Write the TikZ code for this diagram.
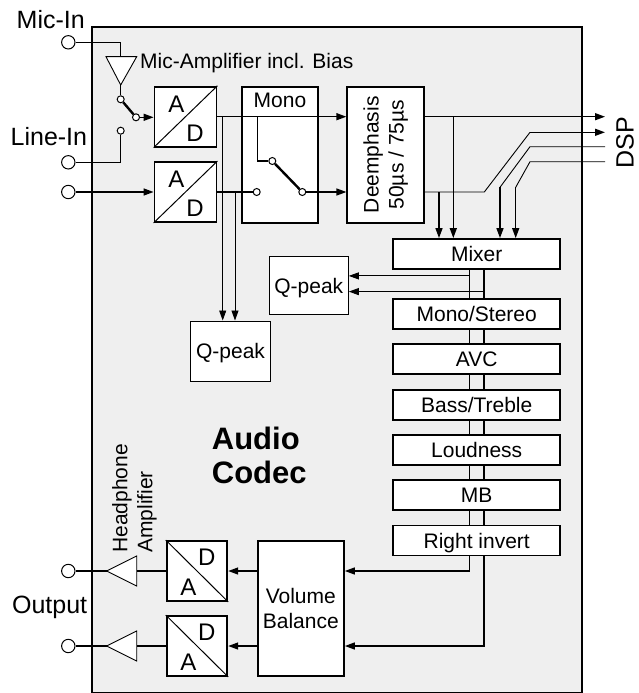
\documentclass[tikz,border=0pt]{standalone}
\usepackage{fontspec}
\setmainfont{Liberation Sans}
\usetikzlibrary{arrows.meta,calc}
\definecolor{codecbg}{HTML}{EFEFEF}
\begin{document}
\begin{tikzpicture}[x=1pt,y=-1pt,
  font=\fontsize{21}{25}\selectfont,
  box/.style={draw, line width=1.8pt, fill=white, inner sep=0pt},
  capbox/.style={box, text height=15pt, text depth=0pt},
  thinbox/.style={draw, line width=1pt, fill=white, inner sep=0pt, text height=15pt, text depth=0pt},
  sig/.style={line width=1.4pt},
  thinsig/.style={line width=0.9pt},
  arr/.style={-{Triangle[length=10pt,width=7pt]}},
  port/.style={circle, draw, line width=1pt, fill=white, minimum size=13.4pt, inner sep=0pt},
  dot/.style={circle, draw, line width=1pt, fill=white, minimum size=7pt, inner sep=0pt},
  lbl/.style={font=\fontsize{25}{28}\selectfont, inner sep=0pt},
  adl/.style={font=\fontsize{24}{24}\selectfont, inner sep=0pt},
  blade/.style={line width=2.4pt},
]
\useasboundingbox (0,0) rectangle (639,693);
% main codec box
\node[draw, line width=2pt, fill=codecbg, minimum width=490pt, minimum height=666pt, inner sep=0pt, anchor=north west] (codec) at (91,26) {};

% ports and labels
\node[port] (micin) at (68.3,42.3) {};
\node[port] (linein) at (68.3,162.3) {};
\node[port] (linein2) at (68.3,192) {};
\node[port] (out1) at (68.3,571) {};
\node[port] (out2) at (68.3,646) {};
\node[lbl, anchor=base east] (lmic) at (85,29) {Mic-In};
\node[lbl, anchor=base east] (lline) at (87.3,145) {Line-In};
\node[lbl, anchor=base east] (lout) at (87.3,613.3) {Output};

% mic amplifier
\coordinate (mampin) at (120.7,56.7);
\coordinate (mampout) at (120.7,85);
\draw[thinsig, fill=white] (106,56.7) -- (136.7,56.7) -- (mampout) -- cycle;
\draw[sig] (micin) -| (mampin);
\node[anchor=base west, inner sep=0pt] (lamp) at (140,68.3) {Mic-Amplifier incl. Bias};

% input switch
\node[dot] (sw1p) at (120.7,99.3) {};
\node[dot] (sw1a) at (136,117.3) {};
\node[dot] (sw1b) at (120.7,130.7) {};
\draw[sig] (mampout) -- (sw1p);
\draw[blade] (sw1p) -- (sw1a);
\draw[sig] (sw1b) |- (linein);

% A/D converters
\node[box, minimum width=62pt, minimum height=60pt] (ad1) at (185.5,116.7) {};
\draw[line width=1pt] (ad1.south west) -- (ad1.north east);
\node[adl] (ad1a) at ($(ad1)+(-9,-12.7)$) {A};
\node[adl] (ad1d) at ($(ad1)+(9.5,16.6)$) {D};
\node[box, minimum width=62pt, minimum height=60pt] (ad2) at (185.5,192) {};
\draw[line width=1pt] (ad2.south west) -- (ad2.north east);
\node[adl] (ad2a) at ($(ad2)+(-9,-12.7)$) {A};
\node[adl] (ad2d) at ($(ad2)+(9.5,16.6)$) {D};
\draw[sig,arr] (sw1a) -- (sw1a -| ad1.west);
\draw[sig,arr] (linein2) -- (ad2.west);

% Mono and Deemphasis
\node[box, minimum width=76pt, minimum height=136pt] (mono) at (279.7,154.7) {};
\node[inner sep=0pt] (lmono) at (280,100.7) {Mono};
\node[box, minimum width=77pt, minimum height=136pt] (deem) at (385.8,154.7) {};
\node[rotate=90, align=center, inner sep=0pt] (ldeem) at (deem.center) {Deemphasis\\50µs / 75µs};

\draw[sig,arr] (ad1.east) -- (ad1.east -| deem.west);
\coordinate (mtap) at (257.7,116.7);
\node[dot] (msw1) at (272.3,161) {};
\node[dot] (msw2) at (302.3,192) {};
\node[dot] (msw3) at (256.7,192) {};
\draw[sig] (mtap) |- (msw1);
\draw[blade] (msw1) -- (msw2);
\draw[sig] (ad2.east) -- (msw3);
\draw[sig,arr] (msw2) -- (msw2 -| deem.west);

% Q-peak (lower)
\node[thinbox, minimum width=79.6pt, minimum height=60pt] (qp1) at (230.5,351) {Q-peak};
\coordinate (t1) at (222.7,116.7);
\coordinate (t2) at (235,192);
\draw[thinsig,arr] (t1) -- (t1 |- qp1.north);
\draw[thinsig,arr] (t2) -- (t2 |- qp1.north);

% processing chain
\node[capbox, minimum width=166.7pt, minimum height=30pt] (mixer) at (476.7,254) {Mixer};
\node[capbox, minimum width=166.7pt, minimum height=30pt] (mst) at (476.7,314) {Mono/Stereo};
\node[capbox, minimum width=166.7pt, minimum height=30pt] (avc) at (476.7,359.3) {AVC};
\node[capbox, minimum width=166.7pt, minimum height=30pt] (bt) at (476.7,404.6) {Bass/Treble};
\node[capbox, minimum width=166.7pt, minimum height=30pt] (loud) at (476.7,449.9) {Loudness};
\node[capbox, minimum width=166.7pt, minimum height=30pt] (mb) at (476.7,495.2) {MB};
\node[capbox, minimum width=166.7pt, minimum height=30pt] (rinv) at (476.7,540.5) {Right invert};
\foreach \a/\b in {mixer/mst, mst/avc, avc/bt, bt/loud, loud/mb, mb/rinv} {
  \draw[sig] ($(\a.south)+(-7.4,0)$) -- ($(\b.north)+(-7.4,0)$);
  \draw[sig] ($(\a.south)+(7.3,0)$) -- ($(\b.north)+(7.3,0)$);
}

% Q-peak (upper)
\node[thinbox, minimum width=79pt, minimum height=58.3pt] (qp2) at (308.8,285.8) {Q-peak};
\coordinate (q2a) at ($(mixer.south)+(-7.4,6)$);
\coordinate (q2b) at ($(mixer.south)+(7.3,21.7)$);
\draw[thinsig,arr] (q2a) -- (q2a -| qp2.east);
\draw[thinsig,arr] (q2b) -- (q2b -| qp2.east);

% DSP connections
\coordinate (dspA) at (605,116.7);
\coordinate (dspB) at (605,132.3);
\coordinate (dspC) at (605,146.7);
\coordinate (dspD) at (605,161.7);
\node[rotate=90, lbl] (ldsp) at (625,142.5) {DSP};
\draw[sig,arr] (deem.east |- ad1.east) -- (dspA);
\coordinate (tapA) at (453.3,116.7);
\coordinate (tapB) at (439,192);
\coordinate (kB) at (530,132.3);
\draw[thinsig] (deem.east |- msw2) -- (484.3,192) -- (kB);
\draw[sig,arr] (kB) -- (dspB);
\draw[sig,arr] (tapA) -- (tapA |- mixer.north);
\draw[sig,arr] (tapB) -- (tapB |- mixer.north);
\coordinate (bC) at (500,187.3);
\coordinate (bD) at (515.7,187.3);
\draw[thinsig] (dspC) -- (530,146.7) -- (bC);
\draw[thinsig] (dspD) -- (530,161.7) -- (bD);
\draw[sig,arr] (bC) -- (bC |- mixer.north);
\draw[sig,arr] (bD) -- (bD |- mixer.north);

% Volume / Balance
\node[box, minimum width=86.3pt, minimum height=135pt, align=center] (vb) at (300.8,608.5) {Volume\\Balance};
\draw[sig,arr] ($(rinv.south)+(-7.4,0)$) |- ($(vb.east)+(0,-37.5)$);
\draw[sig,arr] ($(rinv.south)+(7.3,0)$) |- ($(vb.east)+(0,37.5)$);

% D/A converters
\node[box, minimum width=60.6pt, minimum height=60pt] (da1) at (197,571) {};
\draw[line width=1pt] (da1.north west) -- (da1.south east);
\node[adl] (da1d) at ($(da1)+(9.7,-14)$) {D};
\node[adl] (da1a) at ($(da1)+(-8.7,16.5)$) {A};
\node[box, minimum width=60.6pt, minimum height=60pt] (da2) at (197,646) {};
\draw[line width=1pt] (da2.north west) -- (da2.south east);
\node[adl] (da2d) at ($(da2)+(9.7,-14)$) {D};
\node[adl] (da2a) at ($(da2)+(-8.7,16.5)$) {A};
\draw[sig,arr] (vb.west |- da1.east) -- (da1.east);
\draw[sig,arr] (vb.west |- da2.east) -- (da2.east);

% output amplifiers
\coordinate (oa1in) at (136.7,571);
\coordinate (oa1out) at (106.7,571);
\coordinate (oa2in) at (136.7,646);
\coordinate (oa2out) at (106.7,646);
\draw[sig] (da1.west) -- (oa1in);
\draw[sig] (da2.west) -- (oa2in);
\draw[thinsig, fill=white] (136.7,556) -- (136.7,586) -- (oa1out) -- cycle;
\draw[thinsig, fill=white] (136.7,631) -- (136.7,661) -- (oa2out) -- cycle;
\draw[sig] (oa1out) -- (out1);
\draw[sig] (oa2out) -- (out2);
\node[rotate=90, anchor=west, align=left, inner sep=0pt] (lhp) at (134.5,553) {Headphone\\Amplifier};

% title
\node[anchor=north west, align=left, inner sep=0pt, font=\bfseries\fontsize{31}{34}\selectfont] (ltitle) at (211.7,426.7) {Audio\\Codec};
\end{tikzpicture}
\end{document}
